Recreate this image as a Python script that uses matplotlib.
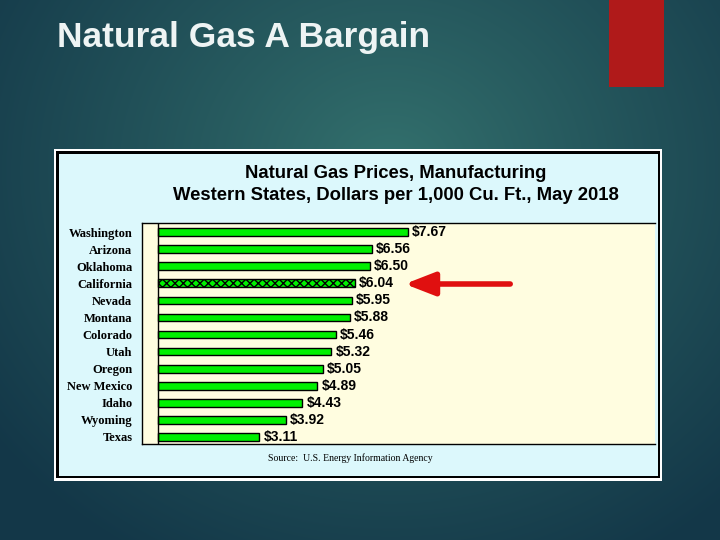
import numpy as np
import matplotlib
matplotlib.use('Agg')
import matplotlib.pyplot as plt
from matplotlib.patches import Rectangle, FancyArrowPatch

# --- Data ---
states = ["Washington", "Arizona", "Oklahoma", "California", "Nevada", "Montana",
          "Colorado", "Utah", "Oregon", "New Mexico", "Idaho", "Wyoming", "Texas"]
prices = [7.67, 6.56, 6.50, 6.04, 5.95, 5.88, 5.46, 5.32, 5.05, 4.89, 4.43, 3.92, 3.11]
highlight = "California"

W, H = 720, 540
BAR_GREEN = "#00f000"
PANEL = "#dcf8fc"
PLOT_BG = "#fffde0"


def fx(px):
    return px / W


def fy(py):
    return 1 - py / H


fig = plt.figure(figsize=(7.2, 5.4), dpi=100)

# slide background: dark teal, lighter towards the upper middle
bg = fig.add_axes([0, 0, 1, 1])
yy, xx = np.mgrid[0:H, 0:W]
r = np.sqrt(((xx - 390) / 500) ** 2 + ((yy - 170) / 450) ** 2)
r = np.clip(r, 0, 1) ** 0.9
c0 = np.array([0x34, 0x72, 0x6e]) / 255
c1 = np.array([0x13, 0x37, 0x48]) / 255
img = c0[None, None, :] * (1 - r[..., None]) + c1[None, None, :] * r[..., None]
bg.imshow(img, extent=[0, W, H, 0], aspect='auto')
bg.set_xlim(0, W)
bg.set_ylim(H, 0)
bg.axis('off')

# red tab top-right
bg.add_patch(Rectangle((609, 0), 55, 87, color="#b01a1a", lw=0))

fig.text(fx(57), fy(38), "Natural Gas A Bargain", color="#eef4f4",
         fontsize=25.5, fontweight='bold', family="Liberation Sans", va='center')

# chart panel
bg.add_patch(Rectangle((54, 149), 608, 332, facecolor="white", lw=0))
bg.add_patch(Rectangle((56, 151), 604, 327, facecolor="black", lw=0))
bg.add_patch(Rectangle((58.5, 153.5), 599, 322, facecolor=PANEL, lw=0))

fig.text(fx(396), fy(174), "Natural Gas Prices, Manufacturing", ha='center', va='center',
         fontsize=13.3, fontweight='bold', family="Liberation Sans", color="black")
fig.text(fx(396), fy(195), "Western States, Dollars per 1,000 Cu. Ft., May 2018", ha='center',
         va='center', fontsize=13.3, fontweight='bold', family="Liberation Sans", color="black")
fig.text(fx(350), fy(458), "Source:  U.S. Energy Information Agency", ha='center', va='center',
         fontsize=7, family="Liberation Serif", color="black")

# plot area
ax = fig.add_axes([fx(142), fy(444), fx(655 - 142), (444 - 223) / H])
ax.set_facecolor(PLOT_BG)
y = np.arange(len(states))
for i, (s, p) in enumerate(zip(states, prices)):
    if s == highlight:
        ax.barh(i, p, height=0.45, color=BAR_GREEN, edgecolor="black", hatch="xxxx",
                lw=1.0, zorder=3)
    else:
        ax.barh(i, p, height=0.45, color=BAR_GREEN, edgecolor="black", lw=1.0, zorder=3)
    ax.annotate(f"${p:.2f}", (p, i), xytext=(3, 0), textcoords='offset points',
                va='center', ha='left', fontsize=10, fontweight='bold',
                family="Liberation Sans", color="black")

ax.axvline(0, color="black", lw=1.0, zorder=4)
ax.set_xlim(-16 / 32.6, 513 / 32.6 - 16 / 32.6)
ax.set_ylim(12.41, -0.53)
ax.set_xticks([])
ax.set_yticks(y)
ax.set_yticklabels(states, fontsize=9, fontweight='bold', family="Liberation Serif")
ax.tick_params(axis='y', length=0, pad=7)
for sp in ['top', 'left', 'bottom']:
    ax.spines[sp].set_color("black")
    ax.spines[sp].set_linewidth(1.0)
ax.spines['right'].set_visible(False)

# red arrow pointing at California
arrow = FancyArrowPatch((fx(513), fy(284)), (fx(402), fy(284)), transform=fig.transFigure,
                        arrowstyle="-|>,head_length=1.8,head_width=0.7", mutation_scale=10,
                        color="#e01010", lw=4)
fig.add_artist(arrow)

fig.savefig("out.png", dpi=100)
